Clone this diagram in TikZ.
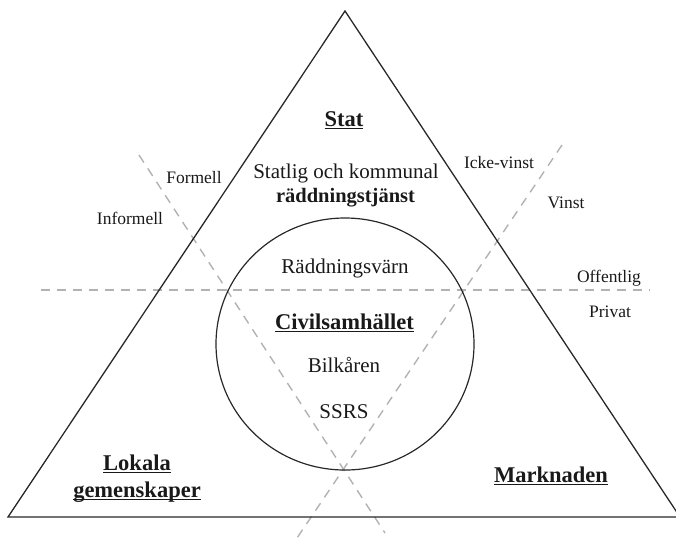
\documentclass[tikz,border=0pt]{standalone}
\usepackage{fontspec}
\setmainfont{Liberation Serif}
\newsavebox\ulbox
\newcommand\ulx[1]{\sbox\ulbox{#1}\rlap{\rule[-3.2pt]{\wd\ulbox}{1.5pt}}\usebox\ulbox}
\definecolor{dashgray}{RGB}{178,178,178}
\definecolor{inkgray}{RGB}{40,40,40}
\tikzset{
  frame/.style={draw=inkgray, line width=1.3pt, line join=miter},
  divider/.style={draw=dashgray, line width=1.4pt, dash pattern=on 9pt off 7pt},
  lbl/.style={anchor=base, inner sep=0pt, text=black!90, font=\fontsize{17.5}{20}\selectfont},
  body/.style={anchor=base, inner sep=0pt, text=black!90, font=\fontsize{21}{24}\selectfont},
  bodybold/.style={anchor=base, inner sep=0pt, text=black!90, font=\fontsize{20.5}{24}\selectfont\bfseries},
  head/.style={anchor=base, inner sep=0pt, text=black!90, font=\fontsize{22.5}{26}\selectfont\bfseries},
}
\begin{document}
\begin{tikzpicture}[x=1pt, y=-1pt]
\useasboundingbox (0,0) rectangle (676,539);
% dashed dividers
\coordinate (h1) at (41,290);
\coordinate (h2) at (650,290);
\coordinate (a1) at (139,155);
\coordinate (a2) at (385,533);
\coordinate (b1) at (562,145);
\coordinate (b2) at (297,538);
\draw[divider] (h1) -- (h2);
\draw[divider] (a1) -- (a2);
\draw[divider] (b1) -- (b2);
% triangle
\coordinate (top) at (345,11);
\coordinate (bl) at (8,517);
\coordinate (br) at (680,517);
\draw[frame] (top) -- (bl) -- (br) -- cycle;
% circle
\coordinate (cc) at (345,344);
\draw[draw=inkgray, line width=1.2pt] (cc) ellipse [x radius=129, y radius=126];
% texts
\node[head] (stat) at (344,126) {\ulx{Stat}};
\node[body] (statlig) at (346,178) {Statlig och kommunal};
\node[bodybold] (rtj) at (345.5,202) {räddningstjänst};
\node[body] (rv) at (345,273) {Räddningsvärn};
\node[head] (civ) at (344.5,329) {\ulx{Civilsamhället}};
\node[body] (bil) at (344,372) {Bilkåren};
\node[body] (ssrs) at (344,418) {SSRS};
\node[head] (lok) at (137,470) {\ulx{Lokala}};
\node[head] (gem) at (137,497) {\ulx{gemenskaper}};
\node[head] (mark) at (551,482) {\ulx{Marknaden}};
\node[lbl] (form) at (194,183) {Formell};
\node[lbl] (inform) at (130,224) {Informell};
\node[lbl] (icke) at (499,168) {Icke-vinst};
\node[lbl] (vinst) at (566,208) {Vinst};
\node[lbl] (off) at (609,282) {Offentlig};
\node[lbl] (priv) at (610,317) {Privat};
\end{tikzpicture}
\end{document}
